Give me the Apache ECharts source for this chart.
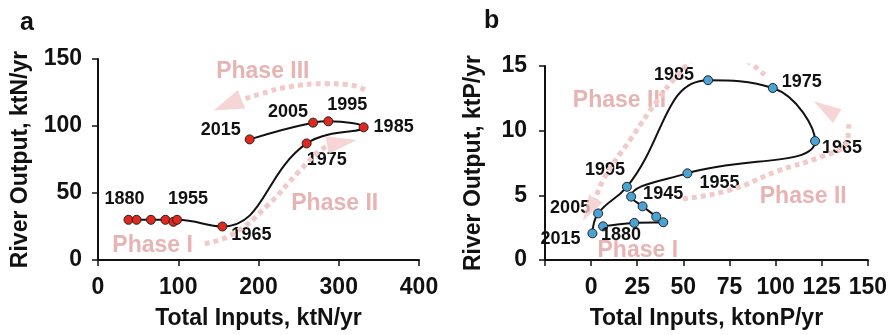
<!DOCTYPE html>
<html>
<head>
<meta charset="utf-8">
<script src="https://cdn.jsdelivr.net/npm/echarts@6/dist/echarts.min.js"></script>
<style>
  html, body { margin: 0; padding: 0; background: #fff; }
  #main { width: 890px; height: 335px; }
</style>
</head>
<body>
<div id="main"></div>
<script>
// panel a: nitrogen
const nYears = ['1880', '', '', '', '', '1955', '1965', '1975', '1985', '1995', '2005', '2015'];
const nInputs = [38, 48, 66, 84, 94, 98.5, 155, 260, 331, 287, 268, 189];
const nOutputs = [30, 30, 30, 30, 28.5, 30, 25, 87, 99, 103.5, 102.5, 90];
const nXTicks = { min: 0, max: 400, interval: 100 };
const nYTicks = { min: 0, max: 150, interval: 50 };

// panel b: phosphorus
const pYears = ['1880', '', '', '', '', '1945', '1955', '1965', '1975', '1985', '1995', '2005', '2015'];
const pInputs = [6.5, 23.4, 39.1, 35.3, 27.9, 21.7, 52.2, 121.4, 98.5, 63.4, 19.4, 3.8, 0.7];
const pOutputs = [2.6, 2.87, 2.92, 3.35, 4.15, 4.9, 6.7, 9.2, 13.3, 13.9, 5.66, 3.6, 2.06];
const pXTicks = { min: -25, max: 150, interval: 25 };
const pYTicks = { min: 0, max: 15, interval: 5 };

// phase annotations (data units)
const phaseTextA = [['Phase I', 68, 10.9], ['Phase II', 295, 42.2], ['Phase III', 205.4, 140.6]];
const phaseTextB = [['Phase I', 25.3, 0.7], ['Phase II', 115, 4.9], ['Phase III', 15.4, 12.3]];
const arrowA1 = [[133, 12.2], [168, 19.4], [210, 40], [251.5, 66.8], [276, 81.4], [288, 85.5]];
const arrowA3 = [[332.5, 127], [310, 131], [286, 131.5], [239, 129.3], [201.5, 123.8], [182, 120]];
const arrowB2 = [[49.8, 4.73], [75, 5.4], [101, 6.87], [125, 8.0], [137.7, 8.9], [139.5, 9.9], [139.7, 10.5]];
const arrowB3 = [[94, 14.3], [82, 15.6], [68.6, 16.2], [57.9, 15.8], [47, 14.3], [36.2, 12.4], [21.7, 9.4], [7.2, 6.37], [2.3, 4.67]];

const FONT = 'Liberation Sans, Arial, sans-serif';
const INK = '#111';
const PINK_TEXT = '#e2a0a0';
const PINK_ARROW = '#f2caca';

// label offsets from marker centre, px
const shiftA = {
  '1880': [-4, -21], '1955': [11, -21], '1965': [29, 9], '1975': [20, 17],
  '1985': [30, 0], '1995': [19, -16], '2005': [-25, -11], '2015': [-29, -9]
};
const shiftB = {
  '1880': [18, 9], '1945': [32, -3], '1955': [32, 10], '1965': [27, 7], '1975': [29, -6],
  '1985': [-34, -5], '1995': [-22, -17], '2005': [-28, -5], '2015': [-32, 6]
};

function points(xs, ys, years, shifts) {
  return xs.map((x, i) => {
    const item = { value: [x, ys[i]] };
    const yr = years[i];
    if (yr) {
      item.label = { show: true, formatter: yr, offset: shifts[yr] };
    }
    return item;
  });
}

function curve(idx, data, color) {
  return {
    type: 'line',
    xAxisIndex: idx, yAxisIndex: idx,
    data: data,
    smooth: 0.45,
    symbol: 'circle',
    symbolSize: 9,
    z: 4,
    lineStyle: { color: INK, width: 2 },
    itemStyle: { color: color, borderColor: '#222', borderWidth: 1 },
    label: {
      show: false, position: 'inside',
      color: INK, fontSize: 18, fontWeight: 'bold', fontFamily: FONT
    }
  };
}

function dotted(idx, pts) {
  return {
    type: 'line',
    xAxisIndex: idx, yAxisIndex: idx,
    data: pts,
    smooth: 0.5,
    symbol: 'none',
    silent: true,
    z: 6,
    lineStyle: { color: PINK_ARROW, width: 5, type: [5, 4], cap: 'butt' }
  };
}

function head(idx, pt, rot, size) {
  return {
    type: 'scatter',
    xAxisIndex: idx, yAxisIndex: idx,
    data: [pt],
    symbol: 'triangle',
    symbolSize: size,
    symbolRotate: rot,
    silent: true,
    z: 6,
    itemStyle: { color: PINK_ARROW }
  };
}

function phases(idx, list) {
  return {
    type: 'scatter',
    xAxisIndex: idx, yAxisIndex: idx,
    data: list.map(d => ({ value: [d[1], d[2]], name: d[0] })),
    symbolSize: 0,
    silent: true,
    z: 3,
    label: {
      show: true, position: 'inside', formatter: '{b}',
      color: PINK_TEXT, fontSize: 23, fontWeight: 'bold', fontFamily: FONT
    }
  };
}

function xAxis(idx, ticks, name, gap) {
  return {
    type: 'value', gridIndex: idx,
    min: ticks.min, max: ticks.max, interval: ticks.interval,
    name: name, nameLocation: 'middle', nameGap: gap,
    nameTextStyle: { color: INK, fontSize: 23, fontWeight: 'bold', fontFamily: FONT },
    axisLine: { show: true, onZero: false, lineStyle: { color: INK, width: 2 } },
    axisTick: { show: true, length: 6, lineStyle: { color: INK, width: 1.5 } },
    splitLine: { show: false },
    axisLabel: {
      color: INK, fontSize: 23, fontWeight: 'bold', fontFamily: FONT, margin: 16,
      formatter: v => (v < 0 ? '' : String(v))
    }
  };
}

function yAxis(idx, ticks, name, gap, margin) {
  return {
    type: 'value', gridIndex: idx,
    min: ticks.min, max: ticks.max, interval: ticks.interval,
    name: name, nameLocation: 'middle', nameGap: gap,
    nameTextStyle: { color: INK, fontSize: 23, fontWeight: 'bold', fontFamily: FONT },
    axisLine: { show: true, onZero: false, lineStyle: { color: INK, width: 2 } },
    axisTick: { show: true, length: 6, lineStyle: { color: INK, width: 1.5 } },
    splitLine: { show: false },
    axisLabel: { color: INK, fontSize: 23, fontWeight: 'bold', fontFamily: FONT, margin: margin }
  };
}

const chart = echarts.init(document.getElementById('main'));
chart.setOption({
  animation: false,
  backgroundColor: '#fff',
  textStyle: { fontFamily: FONT },
  grid: [
    { left: 98, top: 59, width: 321, height: 206 },
    { left: 545, top: 66, width: 323, height: 198 }
  ],
  xAxis: [
    xAxis(0, nXTicks, 'Total Inputs, ktN/yr', 47),
    xAxis(1, pXTicks, 'Total Inputs, ktonP/yr', 47)
  ],
  yAxis: [
    yAxis(0, nYTicks, 'River Output, ktN/yr', 66, 16),
    yAxis(1, pYTicks, 'River Output, ktP/yr', 60, 18)
  ],
  graphic: [
    { type: 'text', left: 20, top: 11, style: { text: 'a', fill: INK, font: 'bold 25px ' + FONT } },
    { type: 'text', left: 484, top: 9, style: { text: 'b', fill: INK, font: 'bold 25px ' + FONT } }
  ],
  series: [
    phases(0, phaseTextA),
    dotted(0, arrowA1),
    head(0, [304, 87.6], -80, [18, 30]),
    dotted(0, arrowA3),
    head(0, [161.5, 115.8], 112, [20, 30]),
    curve(0, points(nInputs, nOutputs, nYears, shiftA), '#e2281e'),

    phases(1, phaseTextB),
    curve(1, points(pInputs, pOutputs, pYears, shiftB), '#4aa3d6'),
    dotted(1, arrowB2),
    head(1, [127, 11.7], 58, [16, 28]),
    dotted(1, arrowB3),
    head(1, [-1.0, 3.88], 150, [16, 26])
  ]
});
</script>
</body>
</html>
